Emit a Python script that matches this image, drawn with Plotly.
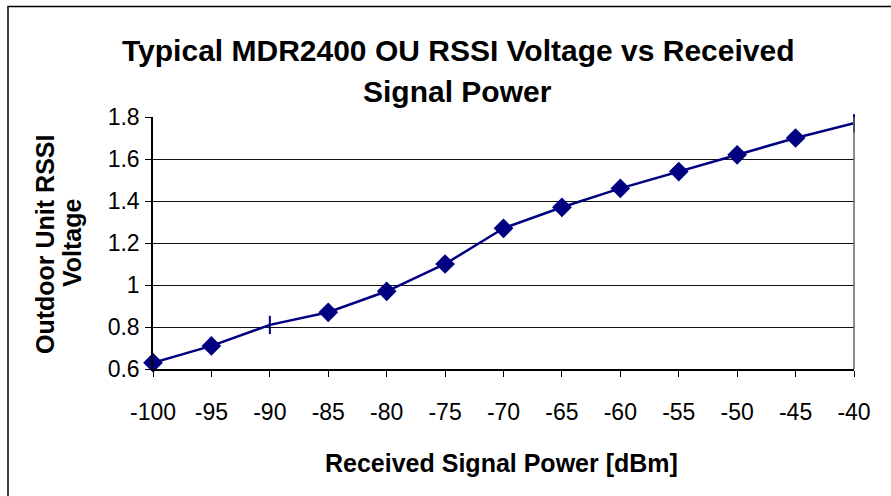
import plotly.graph_objects as go

power_dbm = [-100, -95, -90, -85, -80, -75, -70, -65, -60, -55, -50, -45, -40]
rssi_volts = [0.63, 0.71, 0.81, 0.87, 0.97, 1.10, 1.27, 1.37, 1.46, 1.54, 1.62, 1.70, 1.77]
marker_symbols = ["diamond", "diamond", "line-ns", "diamond", "diamond", "diamond", "diamond",
                  "diamond", "diamond", "diamond", "diamond", "diamond", "line-ns"]
x_ticks = [-100, -95, -90, -85, -80, -75, -70, -65, -60, -55, -50, -45, -40]
x_tick_text = ["-100", "-95", "-90", "-85", "-80", "-75", "-70", "-65", "-60", "-55", "-50", "-45", "-40"]
y_ticks = [0.6, 0.8, 1.0, 1.2, 1.4, 1.6, 1.8]
y_tick_text = ["0.6", "0.8", "1", "1.2", "1.4", "1.6", "1.8"]

title_lines = ["Typical MDR2400 OU RSSI Voltage vs Received", "Signal Power"]
y_title_lines = ["Outdoor Unit RSSI", "Voltage"]
x_title = "Received Signal Power [dBm]"

W, H = 891, 496
L, R, T, B = 153, 37, 117, 127
PW, PH = W - L - R, H - T - B

def px(x):
    return (x - L) / PW

def py(y):
    return (H - B - y) / PH

FONT = "Liberation Sans, Arial, sans-serif"
NAVY = "#000080"

fig = go.Figure()
fig.add_trace(go.Scatter(
    x=power_dbm, y=rssi_volts, mode="lines+markers",
    line=dict(color=NAVY, width=2.5),
    marker=dict(symbol=marker_symbols, size=13, color=NAVY,
                line=dict(color=NAVY, width=2)),
    cliponaxis=False, showlegend=False,
))

fig.update_layout(
    width=W, height=H,
    margin=dict(l=L, r=R, t=T, b=B),
    paper_bgcolor="white", plot_bgcolor="white",
    font=dict(family=FONT, color="black", size=23),
    xaxis=dict(range=[-100, -40], tickvals=x_ticks, ticktext=x_tick_text,
               ticks="outside", ticklen=6,
               tickcolor="black", showline=True, linecolor="black", linewidth=1.5,
               showgrid=False, zeroline=False, ticklabelstandoff=16,
               tickfont=dict(size=23)),
    yaxis=dict(range=[0.6, 1.8], tickvals=y_ticks, ticktext=y_tick_text,
               ticks="outside", ticklen=6, tickcolor="black",
               showline=True, linecolor="black", linewidth=1.5,
               showgrid=True, gridcolor="#111111", gridwidth=1,
               zeroline=False, ticklabelstandoff=1, tickfont=dict(size=23)),
)

# right edge of plot area
fig.add_shape(type="line", xref="paper", yref="paper", x0=1, x1=1, y0=0, y1=1,
              line=dict(color="#666666", width=1.5))
# chart outer border (extends past the visible picture at right and bottom)
fig.add_shape(type="rect", xref="paper", yref="paper",
              x0=px(8), x1=px(W + 20), y0=py(6.5), y1=py(H + 20),
              line=dict(color="black", width=1.5), layer="above")

ann = []
ann.append(dict(text="<b>%s</b>" % title_lines[0], x=px(457.5), y=py(50)))
ann.append(dict(text="<b>%s</b>" % title_lines[1], x=px(457.5), y=py(92)))
for a in ann:
    a.update(xref="paper", yref="paper", showarrow=False, xanchor="center",
             yanchor="middle", font=dict(size=30, family=FONT, color="black"))
ann.append(dict(text="<b>%s</b>" % x_title, x=px(501), y=py(463), xref="paper",
                yref="paper", showarrow=False, xanchor="center", yanchor="middle",
                font=dict(size=25, family=FONT, color="black")))
ann.append(dict(text="<b>%s</b>" % y_title_lines[0], x=px(45), y=py(245), xref="paper",
                yref="paper", showarrow=False, xanchor="center", yanchor="middle",
                textangle=-90, font=dict(size=25, family=FONT, color="black")))
ann.append(dict(text="<b>%s</b>" % y_title_lines[1], x=px(72), y=py(243), xref="paper",
                yref="paper", showarrow=False, xanchor="center", yanchor="middle",
                textangle=-90, font=dict(size=25, family=FONT, color="black")))
fig.update_layout(annotations=ann)

fig.write_html("out.html", config={"displayModeBar": False},
               post_script="document.body.style.margin='0';document.body.style.overflow='hidden';")
